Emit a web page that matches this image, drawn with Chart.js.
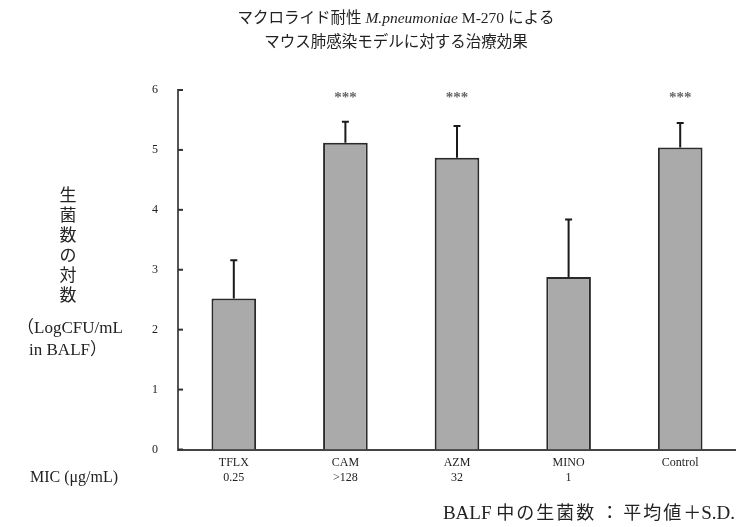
<!DOCTYPE html>
<html lang="ja">
<head>
  <meta charset="UTF-8" />
  <title>マクロライド耐性 M.pneumoniae M-270</title>
  <script src="https://cdn.jsdelivr.net/npm/chart.js"></script>
  <style>
    html, body { margin: 0; padding: 0; background: #fff; }
    #wrap { width: 736px; height: 527px; position: relative; }
  </style>
</head>
<body>
  <div id="wrap"><canvas id="chart" width="736" height="527"></canvas></div>
  <script>
    const categorias = ["TFLX", "CAM", "AZM", "MINO", "Control"];
    const mic = ["0.25", ">128", "32", "1", ""];
    const medias = [2.52, 5.12, 4.87, 2.88, 5.04];
    const desvios = [0.64, 0.35, 0.53, 0.96, 0.41];
    const signif = ["", "***", "***", "", "***"];
    const yTicks = [0, 1, 2, 3, 4, 5, 6];

    const serif = "'Liberation Serif', 'Noto Sans CJK JP', serif";

    // desenha pedaços de texto lado a lado, alinhados à direita em xRight
    function textoSegmentos(ctx, partes, xRight, y) {
      const larg = partes.map(p => {
        ctx.font = p.font;
        ctx.letterSpacing = p.sp || "0px";
        return ctx.measureText(p.t).width;
      });
      let x = xRight - larg.reduce((a, b) => a + b, 0);
      ctx.textAlign = "left";
      partes.forEach((p, i) => {
        ctx.font = p.font;
        ctx.letterSpacing = p.sp || "0px";
        ctx.fillText(p.t, x, y);
        x += larg[i];
      });
      ctx.letterSpacing = "0px";
    }

    const extras = {
      id: "extras",
      afterDatasetsDraw(chart) {
        const ctx = chart.ctx;
        const x = chart.scales.x, y = chart.scales.y;
        const meta = chart.getDatasetMeta(0);
        ctx.save();
        // barras de erro (média + S.D.)
        ctx.strokeStyle = "#1a1a1a";
        ctx.lineWidth = 2;
        meta.data.forEach((bar, i) => {
          const cx = bar.x;
          const top = y.getPixelForValue(medias[i] + desvios[i]);
          const base = y.getPixelForValue(medias[i]);
          ctx.beginPath();
          ctx.moveTo(cx, base);
          ctx.lineTo(cx, top);
          ctx.moveTo(cx - 3.5, top);
          ctx.lineTo(cx + 3.5, top);
          ctx.stroke();
        });
        // asteriscos
        ctx.fillStyle = "#666";
        ctx.font = "bold 15px " + serif;
        ctx.textAlign = "center";
        ctx.textBaseline = "middle";
        meta.data.forEach((bar, i) => {
          if (signif[i]) ctx.fillText(signif[i], bar.x, 98);
        });
        // ticks internos do eixo y
        ctx.strokeStyle = "#333";
        ctx.lineWidth = 2;
        yTicks.forEach(v => {
          const py = y.getPixelForValue(v);
          ctx.beginPath();
          ctx.moveTo(x.left, py);
          ctx.lineTo(x.left + 5, py);
          ctx.stroke();
        });
        ctx.restore();
      },
      afterDraw(chart) {
        const ctx = chart.ctx;
        ctx.save();
        ctx.fillStyle = "#222";
        ctx.textBaseline = "middle";
        // título
        const fs = "15.5px ";
        const p1 = "マクロライド耐性 ";
        const p2 = "M.pneumoniae";
        const p3 = " M-270 による";
        ctx.font = fs + serif;
        const w1 = ctx.measureText(p1).width;
        const w3 = ctx.measureText(p3).width;
        ctx.font = "italic " + fs + serif;
        const w2 = ctx.measureText(p2).width;
        textoSegmentos(ctx, [
          { t: p1, font: fs + serif },
          { t: p2, font: "italic " + fs + serif },
          { t: p3, font: fs + serif }
        ], 396 + (w1 + w2 + w3) / 2, 19);
        ctx.textAlign = "center";
        ctx.font = fs + serif;
        ctx.fillText("マウス肺感染モデルに対する治療効果", 396, 43);
        // título do eixo y (vertical)
        ctx.font = "17px " + serif;
        const chars = ["生", "菌", "数", "の", "対", "数"];
        chars.forEach((c, i) => ctx.fillText(c, 68, 197 + i * 20));
        ctx.fillText("（LogCFU/mL", 70, 329);
        ctx.fillText("in BALF）", 68, 351);
        // MIC
        ctx.font = "16px " + serif;
        ctx.fillText("MIC (μg/mL)", 74, 478);
        // rodapé
        textoSegmentos(ctx, [
          { t: "BALF ", font: "19px " + serif },
          { t: "中の生菌数", font: "18px " + serif, sp: "2px" },
          { t: " ： ", font: "18px " + serif },
          { t: "平均値", font: "18px " + serif, sp: "2px" },
          { t: "＋", font: "18px " + serif },
          { t: "S.D.", font: "19px " + serif }
        ], 735, 514);
        ctx.restore();
      }
    };

    const rotulos = categorias.map((c, i) => mic[i] ? [c, mic[i]] : [c]);

    new Chart(document.getElementById("chart"), {
      type: "bar",
      data: {
        labels: rotulos,
        datasets: [{
          data: medias,
          backgroundColor: "#aaaaaa",
          borderColor: "#2a2a2a",
          borderWidth: 2,
          borderSkipped: "bottom",
          categoryPercentage: 1,
          barPercentage: 0.4
        }]
      },
      options: {
        responsive: false,
        animation: false,
        layout: { padding: { top: 90, right: 0, bottom: 0, left: 0 } },
        plugins: { legend: { display: false }, tooltip: { enabled: false }, title: { display: false } },
        scales: {
          x: {
            offset: true,
            grid: { display: false, drawTicks: false },
            border: { color: "#444", width: 2 },
            ticks: {
              color: "#222",
              font: { family: serif, size: 12, lineHeight: 1.25 },
              padding: 6,
              maxRotation: 0,
              autoSkip: false
            },
            afterFit(s) { s.height = 77.5; }
          },
          y: {
            min: 0,
            max: 6,
            grid: { display: false, drawTicks: false },
            border: { color: "#555", width: 2 },
            ticks: {
              stepSize: 1,
              color: "#222",
              font: { family: serif, size: 12 },
              padding: 20
            },
            afterFit(s) { s.width = 178; }
          }
        }
      },
      plugins: [extras]
    });
  </script>
</body>
</html>
